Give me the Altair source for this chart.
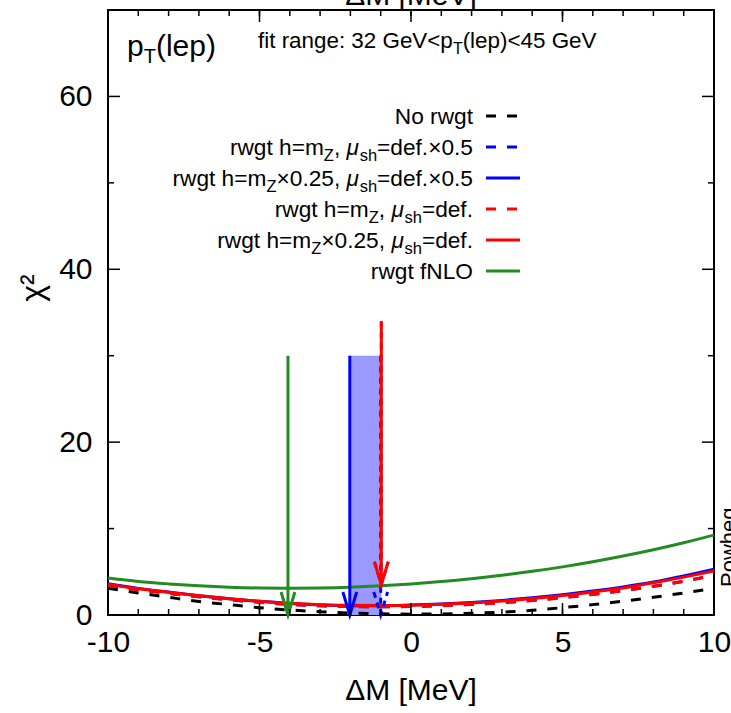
import altair as alt
import pandas as pd

# ---------------- data ----------------
xs = list(range(-10, 11))
no_rwgt    = [3.10, 2.55, 2.05, 1.57, 1.20, 0.85, 0.58, 0.38, 0.23, 0.14, 0.10, 0.12, 0.20, 0.33, 0.55, 0.85, 1.20, 1.60, 2.05, 2.55, 3.10]
blue_dash  = [3.46, 2.93, 2.51, 2.11, 1.77, 1.48, 1.23, 1.07, 0.98, 0.96, 0.99, 1.08, 1.23, 1.43, 1.69, 2.01, 2.39, 2.83, 3.33, 3.91, 4.61]
blue_solid = [3.62, 3.08, 2.65, 2.24, 1.89, 1.58, 1.34, 1.17, 1.08, 1.08, 1.15, 1.27, 1.45, 1.69, 1.99, 2.35, 2.77, 3.25, 3.82, 4.52, 5.30]
red_dash   = [3.45, 2.92, 2.50, 2.10, 1.76, 1.47, 1.22, 1.06, 0.97, 0.95, 0.98, 1.07, 1.22, 1.42, 1.68, 2.00, 2.38, 2.82, 3.32, 3.90, 4.60]
red_solid  = [3.56, 3.03, 2.62, 2.22, 1.89, 1.60, 1.35, 1.20, 1.12, 1.10, 1.14, 1.24, 1.40, 1.62, 1.91, 2.25, 2.66, 3.13, 3.72, 4.38, 5.10]
green      = [4.28, 3.88, 3.60, 3.38, 3.22, 3.13, 3.10, 3.13, 3.22, 3.38, 3.60, 3.88, 4.20, 4.60, 5.05, 5.57, 6.16, 6.82, 7.55, 8.36, 9.25]

series_names  = ["No rwgt", "rwgt h=mZ, mush=def.x0.5", "rwgt h=mZx0.25, mush=def.x0.5",
                 "rwgt h=mZ, mush=def.", "rwgt h=mZx0.25, mush=def.", "rwgt fNLO"]
series_values = [no_rwgt, blue_dash, blue_solid, red_dash, red_solid, green]
series_colors = ["#000000", "#0000ff", "#0000ff", "#ff0000", "#ff0000", "#228b22"]
series_dashed = [True, True, False, True, False, False]

# arrows marking the fitted minima
arrow_series = ["rwgt fNLO", "rwgt h=mZx0.25, mush=def.x0.5", "rwgt h=mZ, mush=def.x0.5",
                "rwgt h=mZ, mush=def.", "rwgt h=mZx0.25, mush=def."]
arrow_x      = [-4.06, -2.02, -1.0, -0.98, -0.98]
arrow_from   = [30, 30, 30, 34, 34]
arrow_to     = [0, 0, 0, 3.5, 3.5]
arrow_colors = ["#228b22", "#0000ff", "#0000ff", "#ff0000", "#ff0000"]
arrow_dashed = [False, False, True, True, False]

# shaded band
band_x = [-2.02, -0.98]
band_y = [0, 30]

# ticks
x_major = [-10, -5, 0, 5, 10]
x_minor = list(range(-10, 11))
y_major = [0, 20, 40, 60]
y_minor = [10, 30, 50, 70]

# legend labels: (text, kind) kind: n normal, s subscript, i italic
legend_rows = [
    [("No rwgt", "n")],
    [("rwgt h=m", "n"), ("Z", "s"), (", ", "n"), ("\u03bc", "i"), ("sh", "s"), ("=def.\u00d70.5", "n")],
    [("rwgt h=m", "n"), ("Z", "s"), ("\u00d70.25, ", "n"), ("\u03bc", "i"), ("sh", "s"), ("=def.\u00d70.5", "n")],
    [("rwgt h=m", "n"), ("Z", "s"), (", ", "n"), ("\u03bc", "i"), ("sh", "s"), ("=def.", "n")],
    [("rwgt h=m", "n"), ("Z", "s"), ("\u00d70.25, ", "n"), ("\u03bc", "i"), ("sh", "s"), ("=def.", "n")],
    [("rwgt fNLO", "n")],
]
title_segs = [("p", "n"), ("T", "s"), ("(lep)", "n")]
fit_segs = [("fit range: 32 GeV<p", "n"), ("T", "s"), ("(lep)<45 GeV", "n")]

# ---------------- layout ----------------
W, H = 606, 605
FONT = "Liberation Sans"
XMIN, XMAX, YMIN, YMAX = -10, 10, 0, 70

AFM = {' ': 278, '(': 333, ')': 333, ',': 278, '-': 333, '.': 278, ':': 278, '<': 584, '=': 584,
       'G': 778, 'L': 556, 'M': 833, 'N': 722, 'O': 778, 'P': 667, 'T': 611, 'V': 667, 'Z': 611,
       'a': 556, 'd': 556, 'e': 556, 'f': 278, 'g': 556, 'h': 556, 'i': 222, 'l': 222, 'm': 833,
       'n': 556, 'o': 556, 'p': 556, 'r': 333, 's': 500, 't': 278, 'w': 722,
       '\u00d7': 584, '\u03bc': 576}
for d in "0123456789":
    AFM[d] = 556


def tw(s, size):
    return sum(AFM.get(c, 556) for c in s) * size / 1000.0


one = alt.Data(values=[{"a": 1}])


def text_layer(txt, x, y, size, italic=False, angle=0, align="left", baseline="alphabetic"):
    kw = dict(text=txt, font=FONT, fontSize=size, align=align, baseline=baseline, color="black")
    if italic:
        kw["fontStyle"] = "italic"
    if angle:
        kw["angle"] = angle
    return alt.Chart(one).mark_text(**kw).encode(x=alt.value(x), y=alt.value(y))


def seg_layers(segs, x0, base, size, subsize, suboff, right=False):
    widths = [tw(t, subsize if k == "s" else size) for t, k in segs]
    x = x0 - sum(widths) if right else x0
    out = []
    for (t, k), w in zip(segs, widths):
        if k == "s":
            out.append(text_layer(t, x, base + suboff, subsize))
        else:
            out.append(text_layer(t, x, base, size, italic=(k == "i")))
        x += w
    return out


xscale = alt.Scale(domain=[XMIN, XMAX], nice=False, zero=False)
yscale = alt.Scale(domain=[YMIN, YMAX], nice=False, zero=False)

layers = []

# band
band_df = pd.DataFrame({"x1": [band_x[0]], "x2": [band_x[1]], "y1": [band_y[0]], "y2": [band_y[1]]})
layers.append(alt.Chart(band_df).mark_rect(color="#9999ff", opacity=1).encode(
    x=alt.X("x1:Q", scale=xscale,
            axis=alt.Axis(values=x_major, labelExpr="'' + datum.value", title=None, ticks=False,
                          domain=False, grid=False, labelFontSize=30, labelFont=FONT,
                          labelColor="black", labelPadding=12, labelFlush=False)),
    x2="x2:Q",
    y=alt.Y("y1:Q", scale=yscale,
            axis=alt.Axis(values=y_major, title=None, ticks=False, domain=False, grid=False,
                          labelFontSize=30, labelFont=FONT, labelColor="black",
                          labelPadding=16, labelFlush=False)),
    y2="y2:Q"))

# curves
for name, vals, col, dashed in zip(series_names, series_values, series_colors, series_dashed):
    df = pd.DataFrame({"x": xs, "y": vals, "s": name})
    kw = dict(color=col, strokeWidth=3, interpolate="monotone", clip=True)
    if dashed:
        kw["strokeDash"] = [10, 11]
    layers.append(alt.Chart(df).mark_line(**kw).encode(
        x=alt.X("x:Q", scale=xscale), y=alt.Y("y:Q", scale=yscale)))

# arrows
HEAD = "M -0.3 -1 L 0 0 L 0.3 -1"
for name, ax, af, at, col, dashed in zip(arrow_series, arrow_x, arrow_from, arrow_to, arrow_colors, arrow_dashed):
    df = pd.DataFrame({"x": [ax], "y1": [af], "y2": [at], "s": [name]})
    rkw = dict(color=col, strokeWidth=3)
    pkw = dict(shape=HEAD, size=2116, filled=False, stroke=col, strokeWidth=3, opacity=1)
    if dashed:
        rkw["strokeDash"] = [6, 5]
        pkw["strokeDash"] = [6, 5]
    layers.append(alt.Chart(df).mark_rule(**rkw).encode(
        x=alt.X("x:Q", scale=xscale), y=alt.Y("y1:Q", scale=yscale), y2="y2:Q"))
    layers.append(alt.Chart(df).mark_point(**pkw).encode(
        x=alt.X("x:Q", scale=xscale), y=alt.Y("y2:Q", scale=yscale)))

# inward ticks
def tick_rules(vals, orient, length):
    df = pd.DataFrame({"v": vals})
    ch = alt.Chart(df).mark_rule(color="black", strokeWidth=1.5)
    if orient == "bottom":
        return ch.encode(x=alt.X("v:Q", scale=xscale), y=alt.value(H), y2=alt.value(H - length))
    if orient == "top":
        return ch.encode(x=alt.X("v:Q", scale=xscale), y=alt.value(0), y2=alt.value(length))
    if orient == "left":
        return ch.encode(y=alt.Y("v:Q", scale=yscale), x=alt.value(0), x2=alt.value(length))
    return ch.encode(y=alt.Y("v:Q", scale=yscale), x=alt.value(W), x2=alt.value(W - length))

for o in ["bottom", "top"]:
    layers.append(tick_rules(x_major, o, 12))
    layers.append(tick_rules(x_minor, o, 6))
for o in ["left", "right"]:
    layers.append(tick_rules(y_major, o, 12))
    layers.append(tick_rules(y_minor, o, 6))

# legend
row_y = [106, 137, 168, 199, 230, 261]
for segs, ry, col, dashed in zip(legend_rows, row_y, series_colors, series_dashed):
    layers += seg_layers(segs, 365, ry + 8, 22.7, 16.5, 6, right=True)
    kw = dict(color=col, strokeWidth=3)
    if dashed:
        kw["strokeDash"] = [10, 11]
    layers.append(alt.Chart(one).mark_rule(**kw).encode(
        x=alt.value(378), x2=alt.value(412), y=alt.value(ry)))

# annotations
layers += seg_layers(title_segs, 19, 46, 30, 20, 7)
layers += seg_layers(fit_segs, 150, 38, 22.4, 16, 6)
layers.append(text_layer("Powheg", 628, 577, 22, angle=270))
layers.append(text_layer("\u0394M [MeV]", W / 2, 690, 30, align="center"))
layers.append(text_layer("\u0394M [MeV]", W / 2, -5, 30, align="center"))
layers.append(text_layer("\u03c7\u00b2", -75, 278, 32, angle=270, align="center", baseline="middle"))

chart = alt.layer(*layers).properties(
    width=W, height=H,
    autosize=alt.AutoSizeParams(type="none"),
    padding={"left": 108, "top": 10, "right": 17, "bottom": 98},
    background="white",
).configure_view(stroke="black", strokeWidth=2).configure_axis(labelFont=FONT)

chart.save("out.html", embed_options={"renderer": "svg", "actions": False})
